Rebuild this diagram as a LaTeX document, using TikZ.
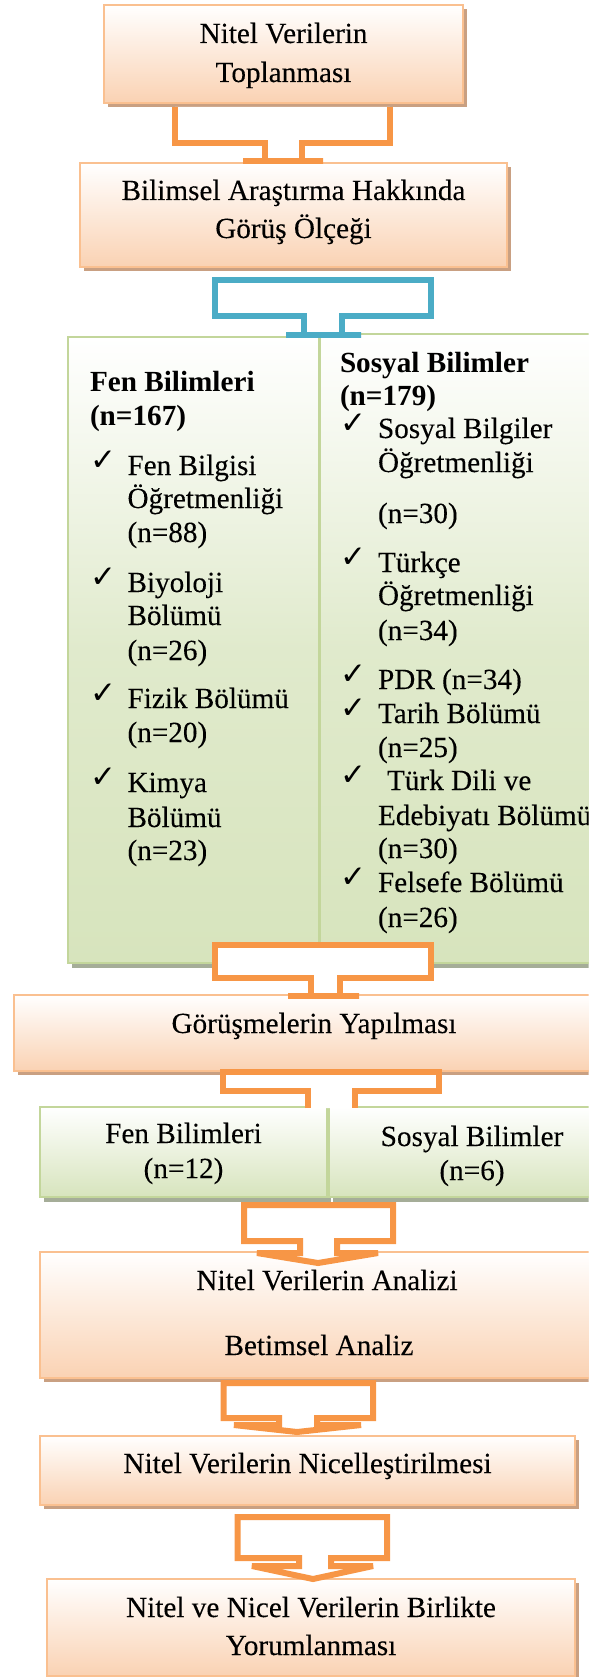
\documentclass[tikz,border=0pt]{standalone}
\usepackage{fontspec}
\setmainfont{Liberation Serif}
\newfontfamily\regfont{Liberation Serif}[FakeBold=0.15]
\newfontfamily\chkfont{DejaVu Sans}
\usetikzlibrary{shadows}
\definecolor{oborder}{HTML}{FAC090}
\definecolor{opeach}{HTML}{FAD2B3}
\definecolor{oshadow}{HTML}{C9A082}
\definecolor{oline}{HTML}{F79646}
\definecolor{bline}{HTML}{4BACC6}
\definecolor{gborder}{HTML}{C3D69B}
\definecolor{ggreen}{HTML}{D7E4BD}
\definecolor{gmid}{HTML}{E0EACC}
\definecolor{gshadow}{HTML}{A5AD98}
\begin{document}
\begin{tikzpicture}[x=1pt,y=-1pt,
 obox/.style={draw=oborder, line width=2pt, top color=white, bottom color=opeach, inner sep=0pt,
   general shadow={shadow xshift=4pt, shadow yshift=-4pt, fill=oshadow}},
 gbox/.style={draw=gborder, line width=2.5pt, top color=white, bottom color=ggreen, inner sep=0pt,
   general shadow={shadow xshift=4pt, shadow yshift=-5pt, fill=gshadow}},
 gtall/.style={gbox, middle color=gmid},
 txt/.style={font=\regfont\fontsize{29.2}{35}\selectfont, inner sep=0pt, outer sep=0pt, anchor=base},
 ltxt/.style={txt, anchor=base west},
 btxt/.style={ltxt, font=\rmfamily\fontsize{29.2}{35}\selectfont\bfseries},
 chk/.style={inner sep=0pt, outer sep=0pt, anchor=base west, font=\chkfont\fontsize{31}{31}\selectfont},
 conn/.style={draw=oline, fill=white, line width=6pt, miter limit=4},
 bconn/.style={conn, draw=bline},
]
\useasboundingbox (0,0) rectangle (597,1677);
\clip (0,0) rectangle (588.5,1677);

% ---------- boxes ----------
\node[obox, minimum width=359pt, minimum height=98pt] (b1) at (283.5,54) {};
\node[obox, minimum width=427pt, minimum height=104pt] (b2) at (293.5,215) {};
\node[gtall, minimum width=251pt, minimum height=626pt] (gL) at (193.5,650) {};
\node[gtall, minimum width=320pt, minimum height=629pt] (gR) at (480,648.5) {};
\node[obox, minimum width=626pt, minimum height=76pt] (b3) at (327,1033) {};
\node[gbox, minimum width=287pt, minimum height=90pt] (sL) at (183.5,1152) {};
\node[gbox, minimum width=311pt, minimum height=90pt] (sR) at (484.5,1152) {};
\node[obox, minimum width=600pt, minimum height=126pt] (b4) at (340,1315) {};
\node[obox, minimum width=535pt, minimum height=69pt] (b5) at (307.5,1470.5) {};
\node[obox, minimum width=528.5pt, minimum height=97pt] (b6) at (310.75,1627.5) {};

% ---------- texts ----------
\node[txt] (t1a) at (283.5,43) {Nitel Verilerin};
\node[txt] (t1b) at (283.5,82) {Toplanması};
\node[txt] (t2a) at (293.5,200) {Bilimsel Araştırma Hakkında};
\node[txt] (t2b) at (293.5,238) {Görüş Ölçeği};

% left column
\node[btxt] (fh1) at (90,391) {Fen Bilimleri};
\node[btxt] (fh2) at (90,425) {(n=167)};
\node[chk] (fc1) at (90,470) {✓};
\node[ltxt] (f1a) at (127.5,475) {Fen Bilgisi};
\node[ltxt] (f1b) at (127.5,508) {Öğretmenliği};
\node[ltxt] (f1c) at (127.5,542) {(n=88)};
\node[chk] (fc2) at (90,587) {✓};
\node[ltxt] (f2a) at (127.5,592) {Biyoloji};
\node[ltxt] (f2b) at (127.5,625) {Bölümü};
\node[ltxt] (f2c) at (127.5,660) {(n=26)};
\node[chk] (fc3) at (90,703) {✓};
\node[ltxt] (f3a) at (127.5,708) {Fizik Bölümü};
\node[ltxt] (f3b) at (127.5,742) {(n=20)};
\node[chk] (fc4) at (90,787) {✓};
\node[ltxt] (f4a) at (127.5,792) {Kimya};
\node[ltxt] (f4b) at (127.5,827) {Bölümü};
\node[ltxt] (f4c) at (127.5,860) {(n=23)};

% right column
\node[btxt] (sh1) at (340,372) {Sosyal Bilimler};
\node[btxt] (sh2) at (340,405) {(n=179)};
\node[chk] (sc1) at (340.5,433) {✓};
\node[ltxt] (s1a) at (378,438) {Sosyal Bilgiler};
\node[ltxt] (s1b) at (378,472) {Öğretmenliği};
\node[ltxt] (s1c) at (378,523) {(n=30)};
\node[chk] (sc2) at (340.5,567) {✓};
\node[ltxt] (s2a) at (378,572) {Türkçe};
\node[ltxt] (s2b) at (378,605) {Öğretmenliği};
\node[ltxt] (s2c) at (378,640) {(n=34)};
\node[chk] (sc3) at (340.5,684) {✓};
\node[ltxt] (s3a) at (378,689) {PDR (n=34)};
\node[chk] (sc4) at (340.5,718) {✓};
\node[ltxt] (s4a) at (378,723) {Tarih Bölümü};
\node[ltxt] (s4b) at (378,757) {(n=25)};
\node[chk] (sc5) at (340.5,785) {✓};
\node[ltxt] (s5a) at (387,790) {Türk Dili ve};
\node[ltxt] (s5b) at (378,825) {Edebiyatı Bölümü};
\node[ltxt] (s5c) at (378,858) {(n=30)};
\node[chk] (sc6) at (340.5,887) {✓};
\node[ltxt] (s6a) at (378,892) {Felsefe Bölümü};
\node[ltxt] (s6b) at (378,927) {(n=26)};

\node[txt] (t3) at (314,1033) {Görüşmelerin Yapılması};
\node[txt] (t4a) at (183.5,1143) {Fen Bilimleri};
\node[txt] (t4b) at (183.5,1178) {(n=12)};
\node[txt] (t5a) at (472,1146) {Sosyal Bilimler};
\node[txt] (t5b) at (472,1180) {(n=6)};
\node[txt] (t6a) at (327,1290) {Nitel Verilerin Analizi};
\node[txt] (t6b) at (319,1355) {Betimsel Analiz};
\node[txt] (t7) at (307.5,1473) {Nitel Verilerin Nicelleştirilmesi};
\node[txt] (t8a) at (311,1617) {Nitel ve Nicel Verilerin Birlikte};
\node[txt] (t8b) at (311,1655) {Yorumlanması};

% ---------- block connectors ----------
\filldraw[conn] (175,107) -- (175,143) -- (265,143) -- (265,161) -- (243,161) -- (323,161)
   -- (302,161) -- (302,143) -- (390,143) -- (390,107);
\filldraw[bconn] (215,280) -- (431,280) -- (431,316) -- (342,316) -- (342,334.5) -- (361,334.5)
   -- (286,334.5) -- (303.5,334.5) -- (303.5,316) -- (215,316) -- cycle;
\filldraw[conn] (215,945) -- (431,945) -- (431,978) -- (340,978) -- (340,995.5) -- (359,995.5)
   -- (288,995.5) -- (311,995.5) -- (311,978) -- (215,978) -- cycle;
\filldraw[conn] (308,1108) -- (308,1091) -- (223,1091) -- (223,1072) -- (439,1072) -- (439,1091)
   -- (355,1091) -- (355,1108);
\filldraw[conn] (244,1205) -- (393,1205) -- (393,1241) -- (337,1241) -- (337,1253) -- (378,1253)
   -- (318,1263) -- (257,1253) -- (300,1253) -- (300,1241) -- (244,1241) -- cycle;
\filldraw[conn] (223.5,1383) -- (373,1383) -- (373,1418) -- (317,1418) -- (317,1425) -- (361,1425)
   -- (297,1432) -- (234,1425) -- (279,1425) -- (279,1418) -- (223.5,1418) -- cycle;
\filldraw[conn] (237.5,1517) -- (387,1517) -- (387,1558) -- (331,1558) -- (331,1566) -- (373,1566)
   -- (313,1579) -- (252,1566) -- (299,1566) -- (299,1558) -- (237.5,1558) -- cycle;
\end{tikzpicture}
\end{document}
